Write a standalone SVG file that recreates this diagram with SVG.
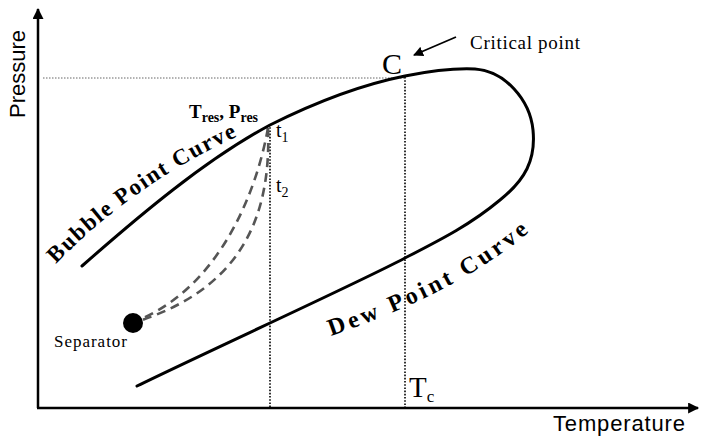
<svg xmlns="http://www.w3.org/2000/svg" width="701" height="438" viewBox="0 0 701 438">
<style>
.axis{stroke:#000;stroke-width:2.5;fill:none}
.curve{stroke:#000;stroke-width:3;fill:none;stroke-linecap:round}
.dot{stroke:#000;stroke-width:1.6;stroke-dasharray:1.6 1.6;fill:none}
.hdot{stroke:#666;stroke-width:1;stroke-dasharray:1.5 1.5;fill:none}
.dash{stroke:#555;stroke-width:2.6;stroke-dasharray:9 6;fill:none}
.serif{font-family:"Liberation Serif","Times New Roman",serif;fill:#000}
.sans{font-family:"Liberation Sans",Arial,sans-serif;fill:#000}
.lbl{font-family:"Liberation Serif","Times New Roman",serif;font-weight:bold;fill:#000}
</style>
<defs>
<marker id="ah" viewBox="0 0 10 10" refX="9" refY="5" markerWidth="10" markerHeight="10" markerUnits="userSpaceOnUse" orient="auto">
<path d="M0,0 L10,5 L0,10 Z" fill="#000"/>
</marker>
<marker id="axh" viewBox="0 0 10 10" refX="9" refY="5" markerWidth="13" markerHeight="11" markerUnits="userSpaceOnUse" orient="auto">
<path d="M0,0 L10,5 L0,10 Z" fill="#000"/>
</marker>
<path id="bubblePath" d="M56,264 C100,218 165,168 245,133"/>
<path id="dewPath" d="M331,336 C400,312 480,278 540,222"/>
</defs>

<g id="axes">
<line class="axis" x1="38" y1="408" x2="38" y2="9" marker-end="url(#axh)"/>
<line class="axis" x1="37" y1="408" x2="698" y2="408" marker-end="url(#axh)"/>
<text class="sans" font-size="22" transform="translate(25,74) rotate(-90)" text-anchor="middle">Pressure</text>
<text class="sans" font-size="22" x="553" y="431" textLength="132">Temperature</text>
</g>

<g id="connectors">
<line class="hdot" x1="43" y1="78" x2="405" y2="78"/>
<line class="dot" x1="405" y1="77" x2="405" y2="407"/>
<line class="dot" x1="270" y1="124" x2="270" y2="407"/>
<path class="dash" d="M268,128 C255,200 215,290 136,321"/>
<path class="dash" d="M268,128 C272,230 230,292 136,322"/>
<line x1="456" y1="37" x2="414" y2="55" stroke="#000" stroke-width="1.8" marker-end="url(#ah)"/>
</g>

<g id="envelope">
<path class="curve" d="M82,266 C140,215 205,160 270,125 C320,100 365,84 405,76 C435,70 455,68 475,69 C505,71 530,100 533,130 C536,160 525,180 500,200 C470,225 440,240 405,258 C360,282 200,355 137,386"/>
</g>

<g id="bubble-label">
<text class="lbl" font-size="23" letter-spacing="1.6"><textPath href="#bubblePath">Bubble Point Curve</textPath></text>
</g>
<g id="dew-label">
<text class="lbl" font-size="24" letter-spacing="3.5"><textPath href="#dewPath">Dew Point Curve</textPath></text>
</g>

<g id="critical">
<text class="serif" font-size="30" x="382" y="74">C</text>
<text class="serif" font-size="19" x="470" y="49" textLength="110">Critical point</text>
</g>

<g id="reservoir">
<text class="serif" font-size="19" font-weight="bold" x="189" y="118">T<tspan font-size="14" dy="4">res</tspan><tspan dy="-4">, P</tspan><tspan font-size="14" dy="4">res</tspan></text>
<text class="serif" font-size="20" x="276" y="137">t<tspan font-size="14" dy="5">1</tspan></text>
<text class="serif" font-size="20" x="276" y="192">t<tspan font-size="14" dy="5">2</tspan></text>
</g>

<g id="separator">
<circle cx="133" cy="323" r="10" fill="#000"/>
<text class="serif" font-size="17" x="54" y="347" textLength="73">Separator</text>
</g>

<g id="tc">
<text class="serif" font-size="29" x="409" y="397">T<tspan font-size="17" dy="5">c</tspan></text>
</g>
</svg>
